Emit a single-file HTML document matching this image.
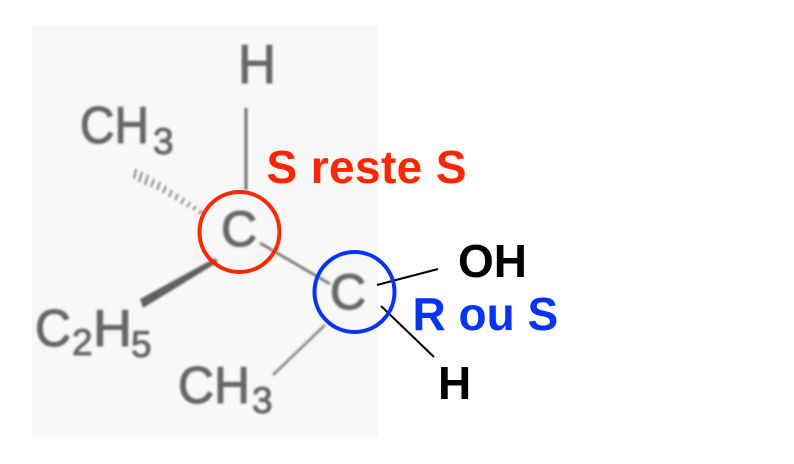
<!DOCTYPE html>
<html><head><meta charset="utf-8"><style>
html,body{margin:0;padding:0;background:#fff;width:794px;height:464px;overflow:hidden}
svg{display:block}
text{font-family:"Liberation Sans",Arial,sans-serif}
.b{font-weight:bold;font-size:46px}
.g{fill:#666;stroke:#666;stroke-width:1.1px;font-size:52px}
.s{fill:#666;stroke:#666;stroke-width:1px;font-size:37px}
</style></head><body>
<svg width="794" height="464" viewBox="0 0 794 464" xmlns="http://www.w3.org/2000/svg">
<defs><filter id="bl" x="-5%" y="-5%" width="110%" height="110%"><feGaussianBlur stdDeviation="1"/></filter></defs>
<rect x="32" y="25" width="346" height="412" fill="#f8f8f8"/>
<g filter="url(#bl)">
<text class="g" x="238" y="83" textLength="38" lengthAdjust="spacingAndGlyphs" style="font-size:55px">H</text>
<text class="g" x="80" y="143" textLength="69" lengthAdjust="spacingAndGlyphs">CH</text>
<text class="s" x="153" y="154">3</text>
<text class="g" x="221" y="246" style="font-size:50px">C</text>
<text class="g" x="330" y="309" style="font-size:50px">C</text>
<text class="g" x="35" y="346" textLength="36" lengthAdjust="spacingAndGlyphs">C</text>
<text class="s" x="72" y="355">2</text>
<text class="g" x="93" y="346" textLength="39" lengthAdjust="spacingAndGlyphs">H</text>
<text class="s" x="131" y="357">5</text>
<text class="g" x="178" y="403" textLength="72" lengthAdjust="spacingAndGlyphs">CH</text>
<text class="s" x="252" y="413">3</text>
<line x1="246" y1="108" x2="246" y2="190" stroke="#707070" stroke-width="3"/>
<line x1="260" y1="243" x2="330" y2="284" stroke="#707070" stroke-width="2.5"/>
<line x1="325" y1="325" x2="273" y2="375" stroke="#808080" stroke-width="2.5"/>
<polygon points="218,262 215,258 140,299 143,308" fill="#606060"/>
<g stroke="#707070" stroke-width="1.7">
<line x1="136" y1="169" x2="134" y2="179"/>
<line x1="142" y1="172" x2="139" y2="182"/>
<line x1="148" y1="175" x2="145" y2="185"/>
<line x1="154" y1="179" x2="151" y2="187"/>
<line x1="160" y1="182" x2="157" y2="190"/>
<line x1="166" y1="186" x2="163" y2="193"/>
<line x1="172" y1="190" x2="169" y2="197"/>
<line x1="178" y1="194" x2="175" y2="200"/>
<line x1="184" y1="198" x2="181" y2="204"/>
<line x1="190" y1="202" x2="187" y2="207"/>
<line x1="196" y1="206" x2="193" y2="210"/>
<line x1="202" y1="210" x2="199" y2="214"/>
</g>
</g>
<line x1="377" y1="285" x2="438" y2="269" stroke="#000" stroke-width="2"/>
<line x1="381" y1="306" x2="434" y2="357" stroke="#000" stroke-width="2"/>
<circle cx="239.5" cy="232" r="40" fill="none" stroke="#ff2600" stroke-width="4"/>
<circle cx="354.5" cy="292" r="40" fill="none" stroke="#0433ff" stroke-width="4"/>
<text class="b" x="266.5" y="183" fill="#ff2600" textLength="200">S reste S</text>
<text class="b" x="458" y="277" fill="#000">OH</text>
<text class="b" x="412.5" y="330" fill="#0433ff">R ou S</text>
<text class="b" x="438" y="399" fill="#000">H</text>
</svg>
</body></html>
